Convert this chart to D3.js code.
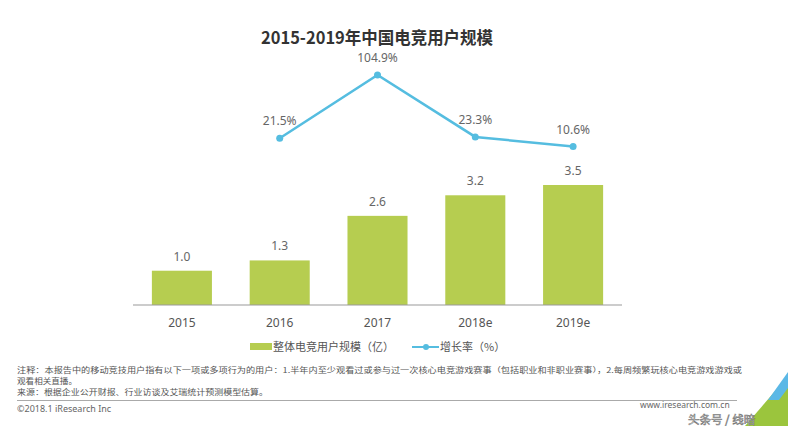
<!DOCTYPE html>
<html><head><meta charset="utf-8">
<script src="https://cdn.jsdelivr.net/npm/d3@7"></script>
<style>
html,body{margin:0;padding:0;background:#fff;}
svg{display:block;}
</style></head>
<body>
<svg id="c" width="788" height="426"></svg>
<script>
const categories = ['2015','2016','2017','2018e','2019e'];
const users = [1.0, 1.3, 2.6, 3.2, 3.5];
const growth = [null, 21.5, 104.9, 23.3, 10.6];
const title = '2015-2019年中国电竞用户规模';
const legendLabels = ['整体电竞用户规模（亿）', '增长率（%）'];
const notes = [
  '注释：本报告中的移动竞技用户指有以下一项或多项行为的用户：1.半年内至少观看过或参与过一次核心电竞游戏赛事（包括职业和非职业赛事），2.每周频繁玩核心电竞游戏游戏或',
  '观看相关直播。',
  '来源：根据企业公开财报、行业访谈及艾瑞统计预测模型估算。'
];
const copyright = '©2018.1 iResearch Inc';
const site = 'www.iresearch.com.cn';

const svg = d3.select('#c');
const FONT = '"Noto Sans","Noto Sans CJK SC",sans-serif';
const CJK = '"Noto Sans CJK SC","Noto Sans",sans-serif';
const GREEN = '#b6cd50';
const BLUE = '#55bde0';

const x = d3.scaleBand().domain(categories).range([133, 622]).paddingInner(0.386).paddingOuter(0.193);
const yBar = d3.scaleLinear().domain([0, 3.5]).range([305, 185]);
const yLine = d3.scaleLinear().domain([0, 104.9]).range([154.6, 75]);

// title
svg.append('text').attr('x', 377).attr('y', 44).attr('text-anchor', 'middle')
  .attr('font-family', CJK).attr('font-weight', 'bold').attr('font-size', 17.5)
  .attr('textLength', 232).attr('lengthAdjust', 'spacingAndGlyphs')
  .attr('fill', '#333').text(title);

// bars
svg.append('g').selectAll('rect').data(users).join('rect')
  .attr('x', (d, i) => x(categories[i])).attr('width', x.bandwidth())
  .attr('y', d => yBar(d)).attr('height', d => yBar(0) - yBar(d))
  .attr('fill', GREEN);
svg.append('g').selectAll('text').data(users).join('text')
  .attr('x', (d, i) => x(categories[i]) + x.bandwidth() / 2)
  .attr('y', d => yBar(d) - 10).attr('text-anchor', 'middle')
  .attr('font-family', FONT).attr('font-size', 12).attr('fill', '#666')
  .text(d => d.toFixed(1));

// x axis
const axis = svg.append('g').attr('transform', 'translate(0,305)')
  .call(d3.axisBottom(x).tickSize(0).tickPadding(13));
axis.select('.domain').attr('stroke', '#999').attr('stroke-width', 1.2).attr('d', 'M133,0H622');
axis.selectAll('text').attr('font-family', FONT).attr('font-size', 12).attr('fill', '#555');

// line
const pts = growth.map((v, i) => ({v, c: categories[i]})).filter(d => d.v !== null);
const line = d3.line().x(d => x(d.c) + x.bandwidth() / 2).y(d => yLine(d.v));
svg.append('path').datum(pts).attr('d', line).attr('fill', 'none')
  .attr('stroke', BLUE).attr('stroke-width', 2.5);
svg.append('g').selectAll('circle').data(pts).join('circle')
  .attr('cx', d => x(d.c) + x.bandwidth() / 2).attr('cy', d => yLine(d.v))
  .attr('r', 3.5).attr('fill', BLUE);
svg.append('g').selectAll('text').data(pts).join('text')
  .attr('x', d => x(d.c) + x.bandwidth() / 2).attr('y', d => yLine(d.v) - 13)
  .attr('text-anchor', 'middle').attr('font-family', FONT).attr('font-size', 12)
  .attr('fill', '#666').text(d => d.v.toFixed(1) + '%');

// legend
const lg = svg.append('g');
lg.append('rect').attr('x', 250).attr('y', 343).attr('width', 22).attr('height', 7).attr('fill', GREEN);
lg.append('text').attr('x', 273).attr('y', 351).attr('font-family', CJK).attr('font-size', 11)
  .attr('fill', '#555').text(legendLabels[0]);
lg.append('line').attr('x1', 412).attr('x2', 439).attr('y1', 347).attr('y2', 347)
  .attr('stroke', BLUE).attr('stroke-width', 2);
lg.append('circle').attr('cx', 426).attr('cy', 347).attr('r', 3).attr('fill', BLUE);
lg.append('text').attr('x', 440).attr('y', 351).attr('font-family', CJK).attr('font-size', 11)
  .attr('fill', '#555').text(legendLabels[1]);

// notes
const noteY = [373, 384, 395];
const noteLen = [725, 60, 251];
notes.forEach((t, i) => {
  svg.append('text').attr('x', 17).attr('y', noteY[i]).attr('font-family', CJK)
    .attr('font-size', 7.5).attr('fill', '#555')
    .attr('textLength', noteLen[i]).attr('lengthAdjust', 'spacingAndGlyphs').text(t);
});
svg.append('line').attr('x1', 17).attr('x2', 737).attr('y1', 400.5).attr('y2', 400.5)
  .attr('stroke', '#aaa').attr('stroke-width', 1);
svg.append('text').attr('x', 17).attr('y', 412).attr('font-family', FONT).attr('font-size', 9)
  .attr('fill', '#666').text(copyright);
svg.append('text').attr('x', 640).attr('y', 408).attr('font-family', FONT).attr('font-size', 8.5)
  .attr('fill', '#666').text(site);

// corner decoration
svg.append('path').attr('d', 'M745,426L788,376L788,426Z').attr('fill', '#9bc53d');
svg.append('path').attr('d', 'M768,400L788,372L788,388L779,400Z').attr('fill', '#5bb8e6');

// watermark
svg.append('text').attr('x', 688).attr('y', 423.5).attr('font-family', CJK).attr('font-size', 11.5)
  .attr('fill', '#fff').attr('stroke', '#777').attr('stroke-width', 0.6)
  .text('头条号 / 线暗');
</script>
</body></html>
